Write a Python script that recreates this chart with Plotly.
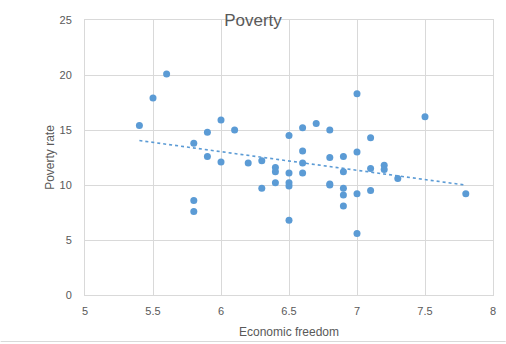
import numpy as np
import plotly.graph_objects as go

econ_freedom = [5.4, 5.5, 5.6, 5.8, 5.8, 5.8, 5.9, 5.9, 6.0, 6.0, 6.1, 6.2, 6.3, 6.3,
                6.4, 6.4, 6.4, 6.5, 6.5, 6.5, 6.5, 6.5, 6.6, 6.6, 6.6, 6.6, 6.7,
                6.8, 6.8, 6.8, 6.8, 6.9, 6.9, 6.9, 6.9, 6.9, 7.0, 7.0, 7.0, 7.0,
                7.1, 7.1, 7.1, 7.2, 7.2, 7.3, 7.5, 7.8]
poverty_rate = [15.4, 17.9, 20.1, 13.8, 8.6, 7.6, 14.8, 12.6, 15.9, 12.1, 15.0, 12.0, 12.2, 9.7,
                11.6, 11.2, 10.2, 14.5, 11.1, 10.2, 9.9, 6.8, 15.2, 13.1, 12.0, 11.1, 15.6,
                15.0, 12.5, 10.1, 10.0, 12.6, 11.2, 9.7, 9.1, 8.1, 18.3, 13.0, 9.2, 5.6,
                14.3, 11.5, 9.5, 11.8, 11.4, 10.6, 16.2, 9.2]

x_ticks = [5, 5.5, 6, 6.5, 7, 7.5, 8]
y_ticks = [0, 5, 10, 15, 20, 25]

blue = "#5b9bd5"
grid = "#d9d9d9"
txt = "#595959"
font = "Liberation Sans"

slope, intercept = np.polyfit(econ_freedom, poverty_rate, 1)
tx = [min(econ_freedom), max(econ_freedom)]
ty = [slope * v + intercept for v in tx]

fig = go.Figure()
fig.add_trace(go.Scatter(x=econ_freedom, y=poverty_rate, mode="markers",
                         marker=dict(color=blue, size=7, line=dict(width=0)),
                         showlegend=False))
fig.add_trace(go.Scatter(x=tx, y=ty, mode="lines",
                         line=dict(color=blue, width=1.6, dash="dot"),
                         showlegend=False))

fig.update_layout(
    width=506, height=344,
    margin=dict(l=84.5, r=12.7, t=20, b=49),
    paper_bgcolor="white", plot_bgcolor="white",
    font=dict(family=font, size=11, color=txt),
    title=dict(text="Poverty", x=0.5, xanchor="center", y=1 - 20 / 344, yanchor="middle",
               font=dict(family=font, size=17, color=txt)),
)
fig.update_xaxes(range=[5, 8], tickvals=x_ticks, ticktext=[str(v) for v in x_ticks],
                 showgrid=True, gridcolor=grid, gridwidth=1, automargin=False,
                 showline=True, linecolor=grid, mirror=True, zeroline=False,
                 ticks="", ticklabelstandoff=6,
                 title=dict(text="Economic freedom", font=dict(family=font, size=12, color=txt),
                            standoff=11))
fig.update_yaxes(range=[0, 25], tickvals=y_ticks, ticktext=[str(v) for v in y_ticks],
                 showgrid=True, gridcolor=grid, gridwidth=1, automargin=False,
                 showline=True, linecolor=grid, mirror=True, zeroline=False,
                 ticks="", ticklabelstandoff=10,
                 title=dict(text="Poverty rate", font=dict(family=font, size=12, color=txt),
                            standoff=2))

fig.add_shape(type="line", xref="paper", yref="paper", x0=-84.5 / 408.8, x1=1 + 12.7 / 408.8,
              y0=-46.5 / 275, y1=-46.5 / 275, line=dict(color=grid, width=1))

fig.write_html("out.html")
